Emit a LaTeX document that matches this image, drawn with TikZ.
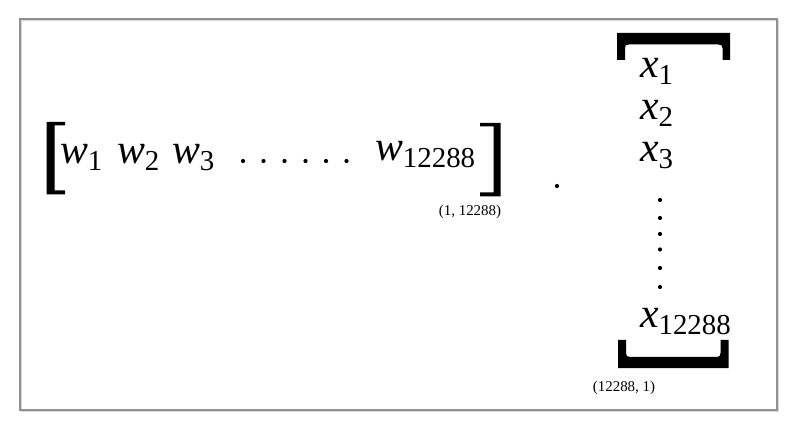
\documentclass[tikz,border=0pt]{standalone}
\usepackage{fontspec}
\setmainfont{Liberation Serif}
\definecolor{framegray}{RGB}{145,145,145}
\definecolor{shadowgray}{RGB}{215,215,215}
\newcommand{\vecel}[2]{{\fontsize{42}{42}\selectfont\itshape #1}\raisebox{-7bp}{\fontsize{29}{29}\selectfont #2}}
\tikzset{
  elem/.style={anchor=base west, inner sep=0pt, outer sep=0pt},
  dimlabel/.style={anchor=center, inner sep=0pt, font=\fontsize{15}{15}\selectfont},
  dotmark/.style={fill=black, draw=none, circle, minimum size=4.2bp, inner sep=0pt},
  bracketfill/.style={fill=black, draw=none}
}
\begin{document}
\begin{tikzpicture}[x=1bp,y=-1bp]
\useasboundingbox (0,0) rectangle (800,436);
\fill[white] (0,0) rectangle (800,436);
\draw[shadowgray, line width=1.6bp] (21.5,20.5) rectangle (778.5,411.5);
\draw[framegray, line width=1.1bp] (20,19) rectangle (777,410);
% row vector
\fill[bracketfill] (46.5,122) -- (65,122) -- (65,125.5) -- (54.5,125.5) -- (54.5,190.5) -- (65,190.5) -- (65,194.5) -- (46.5,194.5) -- cycle;
\fill[bracketfill] (500.5,123) -- (480,123) -- (480,126.5) -- (493.5,126.5) -- (493.5,192.5) -- (480,192.5) -- (480,196.5) -- (500.5,196.5) -- cycle;
\node[elem] (w1) at (60,164) {\vecel{w}{1}};
\node[elem] (w2) at (117,164) {\vecel{w}{2}};
\node[elem] (w3) at (172,164) {\vecel{w}{3}};
\foreach \i/\xx in {1/243,2/263.5,3/284.5,4/305.5,5/326,6/346.5}
  \node[dotmark] (hd\i) at (\xx,161) {};
\node[elem] (wn) at (375,161) {\vecel{w}{12288}};
\node[dimlabel] (wdim) at (470,212) {(1, 12288)};
% product dot
\node[dotmark] (prod) at (557,186) {};
% column vector
\fill[bracketfill] (617,60) -- (617,33) -- (730,33) -- (730,60) -- (722.5,60) -- (722.5,48) .. controls (722.5,45) and (721,44.5) .. (718,44.5) -- (629,44.5) .. controls (626,44.5) and (625,45) .. (625,48) -- (625,60) -- cycle;
\fill[bracketfill] (618,340) -- (618,368) -- (728.5,368) -- (728.5,340) -- (720.5,340) -- (720.5,353) .. controls (720.5,356) and (719.5,357) .. (716.5,357) -- (630,357) .. controls (627,357) and (626,356) .. (626,353) -- (626,340) -- cycle;
\node[elem] (x1) at (640,78) {\vecel{x}{1}};
\node[elem] (x2) at (640,120) {\vecel{x}{2}};
\node[elem] (x3) at (640,162) {\vecel{x}{3}};
\foreach \i/\yy in {1/200,2/218,3/234,4/249.5,5/268,6/287}
  \node[dotmark] (vd\i) at (660,\yy) {};
\node[elem] (xn) at (640,328) {\vecel{x}{12288}};
\node[dimlabel] (xdim) at (624,388) {(12288, 1)};
\end{tikzpicture}
\end{document}
